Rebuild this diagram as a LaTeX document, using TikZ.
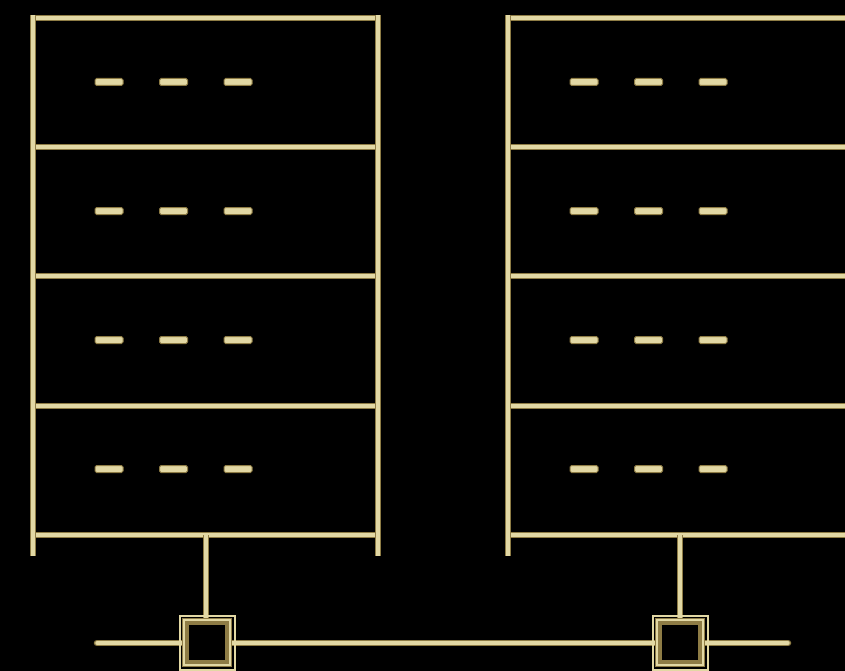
\documentclass[tikz,border=0pt]{standalone}
\begin{document}
\begin{tikzpicture}[x=1pt,y=-1pt,
  gold/.style={line width=6.5pt,draw=gdark,line cap=butt},
  goldhi/.style={line width=3.4pt,draw=glight,line cap=butt},
  led/.style={fill=glight,draw=gdark,line width=1pt,rounded corners=1.5pt},
  portbox/.style={draw=gdark,line width=7pt,fill=black,minimum width=43pt,minimum height=42pt,inner sep=0pt}]
\definecolor{gdark}{HTML}{8E7C45}
\definecolor{glight}{HTML}{E2D8A4}
\fill[black] (0,0) rectangle (845,671);
\useasboundingbox (0,0) rectangle (845,671);
\clip (0,0) rectangle (845,671);
% shelves
\foreach \ox/\xr in {0/378, 475/860}{
  \foreach \y in {18,147,276,406,535}{
    \draw[gold] (33+\ox,\y) -- (\xr,\y);
    \draw[goldhi] (33+\ox,\y) -- (\xr,\y);
  }
  % LEDs
  \foreach \y in {82,211,340,469}{
    \foreach \x in {109,173.5,238}{
      \draw[led] (\x+\ox-14,\y-3.5) rectangle (\x+\ox+14,\y+3.5);
    }
  }
}
% posts
\foreach \x in {33,378,508}{
  \draw[gold] (\x,15) -- (\x,556);
  \draw[goldhi] (\x,15) -- (\x,556);
}
% network bus
\coordinate (busL) at (97,643);
\coordinate (busR) at (788,643);
\draw[gold,line cap=round] (busL) -- (busR);
\draw[goldhi,line cap=round] (busL) -- (busR);
% stems
\foreach \x in {206,680}{
  \draw[gold] (\x,535) -- (\x,620);
  \draw[goldhi] (\x,535) -- (\x,620);
}
% port boxes
\node[portbox] (p1) at (207,642.5) {};
\node[portbox] (p2) at (680,642.5) {};
\foreach \p in {p1,p2}{
  \draw[glight,line width=2pt] ([shift={(-2.5pt,2.5pt)}]\p.north west) rectangle ([shift={(2.5pt,-2.5pt)}]\p.south east);
  \draw[glight,line width=1.6pt] ([shift={(2.2pt,-2.2pt)}]\p.north west) rectangle ([shift={(-2.2pt,2.2pt)}]\p.south east);
}
\end{tikzpicture}
\end{document}
